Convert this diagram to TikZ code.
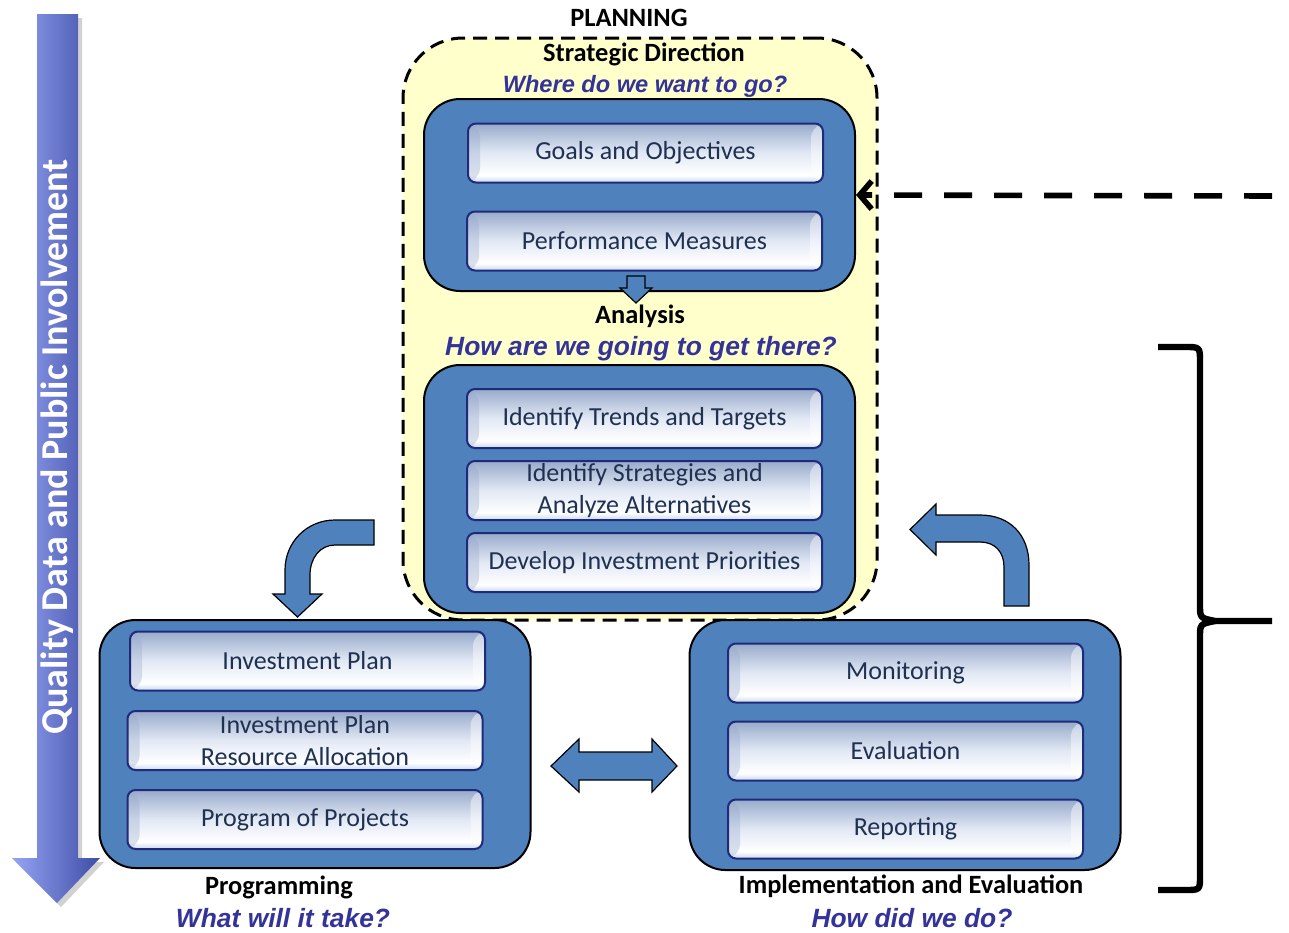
\documentclass[tikz,border=0pt]{standalone}
\usepackage{fontspec}
\setmainfont{Carlito}
\newfontfamily\qfont{Liberation Sans}
\usetikzlibrary{arrows.meta}
\definecolor{boxblue}{HTML}{4F81BD}
\definecolor{navy}{HTML}{1F2A7A}
\definecolor{btntext}{HTML}{1F3050}
\definecolor{qblue}{HTML}{33339A}
\definecolor{plany}{HTML}{FFFFCC}
\definecolor{btnlow}{HTML}{C9D8F0}
\definecolor{btnmid}{HTML}{E2E9F5}
\definecolor{btntop}{HTML}{98AACB}
\definecolor{arrl}{HTML}{95A4F2}
\definecolor{arrd}{HTML}{3E4DA6}
\pgfdeclareverticalshading{btnshade}{100bp}{color(0bp)=(btnlow); color(25bp)=(btnlow); color(31bp)=(white); color(50bp)=(btnmid); color(75bp)=(btntop); color(100bp)=(btntop)}
\tikzset{
  bluebox/.style={draw=black, line width=1pt, fill=boxblue, rounded corners=18pt, minimum width=215.5pt},
  btn/.style={draw=navy, line width=1pt, rounded corners=4pt, shading=btnshade,
    minimum width=177.5pt, minimum height=29.5pt, inner sep=0pt, align=center,
    text=btntext, font=\fontsize{13}{16}\selectfont,
    path picture={
      \fill[btntop,opacity=.35] (path picture bounding box.south west) -- (path picture bounding box.north west)
        -- ++(6pt,-3pt) -- ([xshift=6pt,yshift=3pt]path picture bounding box.south west) -- cycle;
      \fill[white,opacity=.45] (path picture bounding box.south east) -- (path picture bounding box.north east)
        -- ++(-6pt,-3pt) -- ([xshift=-6pt,yshift=3pt]path picture bounding box.south east) -- cycle;
    }},
  head/.style={font=\bfseries\fontsize{13.2}{15}\selectfont, text=black, inner sep=0pt},
  quest/.style={font=\qfont\bfseries\itshape\fontsize{13.2}{15}\selectfont, text=qblue, inner sep=0pt},
  blockarrow/.style={fill=boxblue, draw=black, line width=0.6pt, line join=miter}
}
\begin{document}
\begin{tikzpicture}[x=0.5pt,y=-0.5pt]
\useasboundingbox (0,0) rectangle (1289,932);
\fill[white] (0,0) rectangle (1289,932);

% left vertical arrow
\fill[black,opacity=.18] (41,18) -- (82,18) -- (82,862) -- (104,862) -- (61,907) -- (16,862) -- (41,862) -- cycle;
\shade[left color=arrl, right color=arrd] (37,14) -- (78,14) -- (78,858) -- (100,858) -- (57,903) -- (12,858) -- (37,858) -- cycle;
\node[rotate=90, text=white, font=\bfseries\fontsize{19}{21}\selectfont, inner sep=0pt] (qtxt) at (57,447) {Quality Data and Public Involvement};

% planning region
\node[draw=black, dash pattern=on 7pt off 4pt, line width=1.5pt, fill=plany, rounded corners=30pt,
      minimum width=237pt, minimum height=291pt] (plan) at (640,329) {};
\node[head] (planning) at (629,18) {PLANNING};
\node[head] (strat) at (644,54) {Strategic Direction};
\node[quest, font=\qfont\bfseries\itshape\fontsize{11.8}{13}\selectfont] (where) at (645,86) {Where do we want to go?};

\node[bluebox, minimum height=96pt] (topbox) at (639.5,195) {};
\node[btn] (g1) at (645.5,153) {Goals and Objectives};
\node[btn] (g2) at (644.5,241) {Performance Measures};

% small down arrow
\draw[blockarrow] (627,276) -- (645,276) -- (645,288) -- (652,288) -- (636,303) -- (620,288) -- (627,288) -- cycle;

\node[head] (analysis) at (640,316) {Analysis};
\node[quest] (how) at (641,349) {How are we going to get there?};

\node[bluebox, minimum height=124pt] (anabox) at (639.5,489) {};
\node[btn] (a1) at (644.5,418.5) {Identify Trends and Targets};
\node[btn] (a2) at (644.5,490.5) {Identify Strategies and\\Analyze Alternatives};
\node[btn] (a3) at (644.5,562.5) {Develop Investment Priorities};

% programming
\node[bluebox, minimum height=124pt] (progbox) at (315,744) {};
\node[btn] (p1) at (307.5,661) {Investment Plan};
\node[btn] (p2) at (305,740.5) {Investment Plan\\Resource Allocation};
\node[btn] (p3) at (305,819.5) {Program of Projects};
\node[head] (prog) at (279,887) {Programming};
\node[quest] (what) at (283,918) {What will it take?};

% implementation
\node[bluebox, minimum height=125pt] (implbox) at (905,745) {};
\node[btn] (i1) at (905.5,673) {Monitoring};
\node[btn] (i2) at (905.5,751) {Evaluation};
\node[btn] (i3) at (905.5,829) {Reporting};
\node[head] (impl) at (911,886) {Implementation and Evaluation};
\node[quest] (howdid) at (912,918) {How did we do?};

% curved arrow: analysis -> programming
\draw[blockarrow] (374,520) -- (335,520) .. controls (307,520) and (285,542) .. (285,570) -- (285,594) -- (273,594)
  -- (297.5,617) -- (322,594) -- (310,594) -- (310,575) .. controls (310,558) and (320,545) .. (335,545) -- (374,545) -- cycle;

% curved arrow: implementation -> analysis
\draw[blockarrow] (1029,606) -- (1029,565) .. controls (1029,535) and (1010,515) .. (980,515) -- (936,515) -- (936,504)
  -- (910,529.5) -- (936,555) -- (936,542) -- (980,542) .. controls (995,542) and (1004,552) .. (1004,567) -- (1004,606) -- cycle;

% double arrow
\draw[blockarrow] (551,766) -- (579,739) -- (579,752) -- (652,752) -- (652,739) -- (677,766) -- (652,792) -- (652,780)
  -- (579,780) -- (579,792) -- cycle;

% dashed feedback arrow
\coordinate (dashend) at (1272,196);
\draw[line width=2.8pt, dash pattern=on 14pt off 11pt, -{Straight Barb[length=6pt,width=14pt,line width=2.8pt]}] (dashend) -- (topbox.east);

% brace
\draw[line width=3.2pt, line join=round] (1158,347) -- (1185,347) .. controls (1200,347) .. (1200,362) -- (1200,605)
  .. controls (1200,618) .. (1215,621) -- (1272,621);
\draw[line width=3.2pt, line join=round] (1215,621) .. controls (1200,624) .. (1200,637) -- (1200,876)
  .. controls (1200,890) .. (1185,890) -- (1158,890);
\end{tikzpicture}
\end{document}
